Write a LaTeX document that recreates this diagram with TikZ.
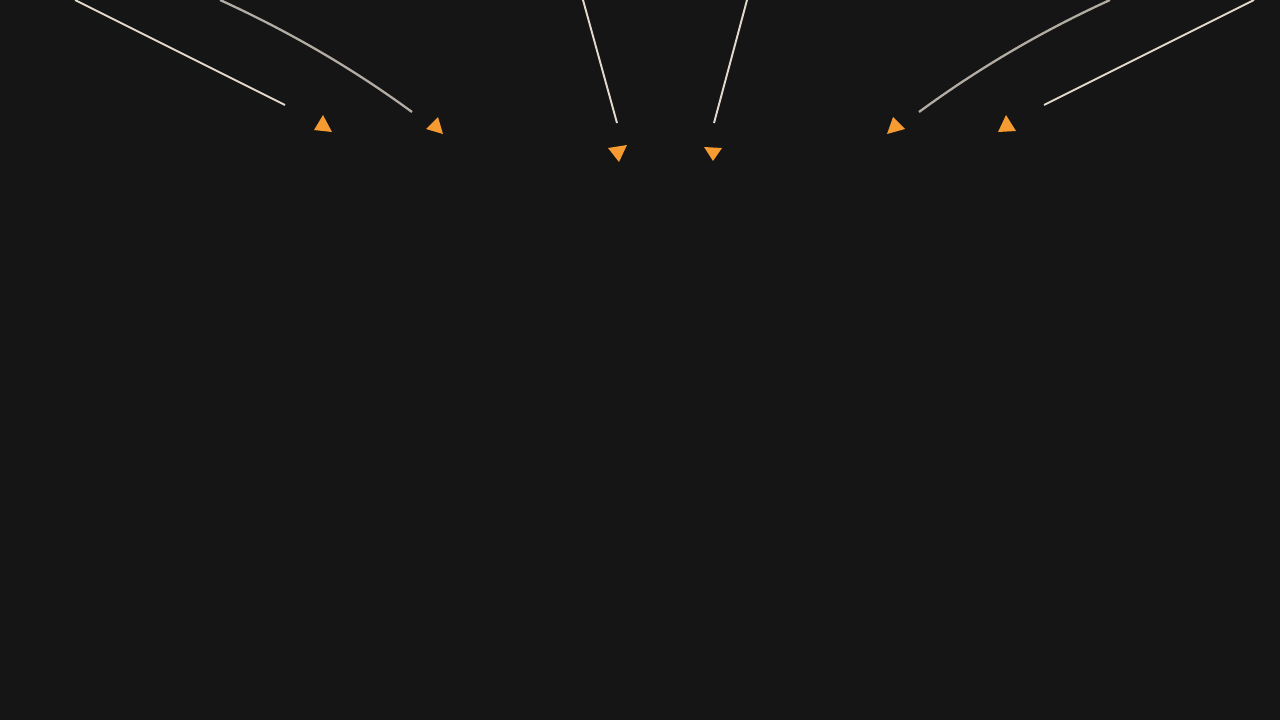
\documentclass[tikz,border=0pt]{standalone}
\definecolor{bg}{HTML}{151515}
\definecolor{wirelight}{HTML}{E2D9CD}
\definecolor{wiregrey}{HTML}{B3ACA4}
\definecolor{tipfill}{HTML}{F59B32}
\tikzset{
  wire/.style={draw=wirelight,line width=1.1pt},
  wiredim/.style={draw=wiregrey,line width=1.3pt},
  tipmark/.style={fill=tipfill,draw=none},
}
\begin{document}
\begin{tikzpicture}[x=0.02cm,y=-0.02cm]
   \fill[bg] (0,0) rectangle (1280,720);
   \useasboundingbox (0,0) rectangle (1280,720);
   % line ends
   \coordinate (a1) at (75,0);    \coordinate (b1) at (285,105);
   \coordinate (a2) at (220,0);   \coordinate (b2) at (412,112);
   \coordinate (a3) at (583,0);   \coordinate (b3) at (617,123);
   \coordinate (a4) at (747,0);   \coordinate (b4) at (714,123);
   \coordinate (a5) at (1110,0);  \coordinate (b5) at (919,112);
   \coordinate (a6) at (1254,0);  \coordinate (b6) at (1044,105);
   \draw[wire] (a1) -- (b1);
   \draw[wiredim] (a2) .. controls (288,31) and (352,68) .. (b2);
   \draw[wire] (a3) -- (b3);
   \draw[wire] (a4) -- (b4);
   \draw[wiredim] (a5) .. controls (1042,31) and (979,68) .. (b5);
   \draw[wire] (a6) -- (b6);
   % tips
   \fill[tipmark] (323,115) -- (314,130) -- (332,132) -- cycle;
   \fill[tipmark] (438,117) -- (426,129) -- (443,134) -- cycle;
   \fill[tipmark] (608,148) -- (627,145) -- (619,162) -- cycle;
   \fill[tipmark] (704,147) -- (722,148) -- (713,161) -- cycle;
   \fill[tipmark] (893,117) -- (905,129) -- (887,134) -- cycle;
   \fill[tipmark] (1006,115) -- (998,132) -- (1016,131) -- cycle;
\end{tikzpicture}
\end{document}
